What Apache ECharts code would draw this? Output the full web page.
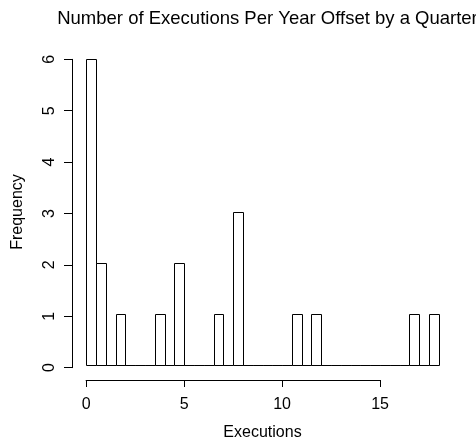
<!DOCTYPE html>
<html><head><meta charset="utf-8">
<script src="https://cdn.jsdelivr.net/npm/echarts@6/dist/echarts.min.js"></script>
<style>html,body{margin:0;padding:0;background:#fff}#c{width:476px;height:446px}</style>
</head><body><div id="c"></div>
<script>
var binBreaks = [0,0.5,1,1.5,2,2.5,3,3.5,4,4.5,5,5.5,6,6.5,7,7.5,8,8.5,9,9.5,10,10.5,11,11.5,12,12.5,13,13.5,14,14.5,15,15.5,16,16.5,17,17.5,18];
var binCounts = [6,2,0,1,0,0,0,1,0,2,0,0,0,1,0,3,0,0,0,0,0,1,0,1,0,0,0,0,0,0,0,0,0,1,0,1];
var xTicks = [0,5,10,15];
var yTicks = [0,1,2,3,4,5,6];
var titleText = 'Number of Executions Per Year Offset by a Quarter';
var xLabel = 'Executions';
var yLabel = 'Frequency';

var FONT = 'Liberation Sans, Arial, Helvetica, sans-serif';
var W = 476, H = 446;
// plot region
var pL = 72, pR = 453, pT = 47, pB = 380;
var xMin = binBreaks[0], xMax = binBreaks[binBreaks.length-1];
var yMaxData = Math.max.apply(null, binCounts);
var xPad = (xMax - xMin) * 0.04, yPad = yMaxData * 0.04;
var xLo = xMin - xPad, xHi = xMax + xPad, yLo = -yPad, yHi = yMaxData + yPad;
var sx = (pR - pL) / (xHi - xLo), sy = (pB - pT) / (yHi - yLo);
var xT0 = xTicks[0], xT1 = xTicks[xTicks.length-1];
var yT0 = yTicks[0], yT1 = yTicks[yTicks.length-1];
var gxL = pL + (xT0 - xLo) * sx, gxR = pL + (xT1 - xLo) * sx;
var gyT = pB - (yT1 - yLo) * sy, gyB = pB - (yT0 - yLo) * sy;

var data = [];
for (var i = 0; i < binCounts.length; i++) data.push([binBreaks[i], binBreaks[i+1], binCounts[i]]);

var lab = {color:'#000', fontFamily:FONT, fontSize:16};
var chart = echarts.init(document.getElementById('c'), null, {renderer:'canvas'});
chart.setOption({
  backgroundColor:'#fff',
  animation:false,
  title:{text:titleText, left:(pL+pR)/2, top:4, textAlign:'center',
    textStyle:{fontFamily:FONT, fontSize:18.5, fontWeight:'normal', color:'#000'}},
  grid:[
    {left:pL, right:W-pR, top:pT, bottom:H-pB},
    {left:gxL, right:W-gxR, top:pT, bottom:H-pB},
    {left:pL, right:W-pR, top:gyT, bottom:H-gyB}
  ],
  xAxis:[
    {gridIndex:0, type:'value', min:xLo, max:xHi, axisLine:{show:false}, axisTick:{show:false}, axisLabel:{show:false}, splitLine:{show:false},
      name:xLabel, nameLocation:'middle', nameGap:48, nameTextStyle:lab},
    {gridIndex:1, type:'value', min:xT0, max:xT1, interval:5, position:'bottom',
      axisLine:{show:true, lineStyle:{color:'#000', width:1}},
      axisTick:{show:true, length:7, lineStyle:{color:'#000', width:1}},
      axisLabel:{show:true, margin:17, color:'#000', fontFamily:FONT, fontSize:16}, splitLine:{show:false}},
    {gridIndex:2, type:'value', show:false, min:0, max:1}
  ],
  yAxis:[
    {gridIndex:0, type:'value', min:yLo, max:yHi, axisLine:{show:false}, axisTick:{show:false}, axisLabel:{show:false}, splitLine:{show:false},
      name:yLabel, nameLocation:'middle', nameGap:46, nameTextStyle:lab},
    {gridIndex:1, type:'value', show:false, min:0, max:1},
    {gridIndex:2, type:'value', min:yT0, max:yT1, interval:1, position:'left',
      axisLine:{show:true, lineStyle:{color:'#000', width:1}},
      axisTick:{show:true, length:8, lineStyle:{color:'#000', width:1}},
      axisLabel:{show:true, rotate:90, margin:14, color:'#000', fontFamily:FONT, fontSize:16}, splitLine:{show:false}}
  ],
  series:[{
    type:'custom', xAxisIndex:0, yAxisIndex:0, clip:false,
    data:data,
    encode:{x:[0,1], y:2},
    renderItem:function(params, api){
      var p0 = api.coord([api.value(0), api.value(2)]);
      var p1 = api.coord([api.value(1), 0]);
      var x0 = Math.round(p0[0]) + 0.5, x1 = Math.round(p1[0]) + 0.5;
      var y0 = Math.round(p0[1]) + 0.5, y1 = Math.round(p1[1]) + 0.5;
      return {type:'rect', shape:{x:x0, y:y0, width:x1-x0, height:y1-y0},
        style:{fill:'#fff', stroke:'#000', lineWidth:1}};
    }
  }]
});
</script></body></html>
